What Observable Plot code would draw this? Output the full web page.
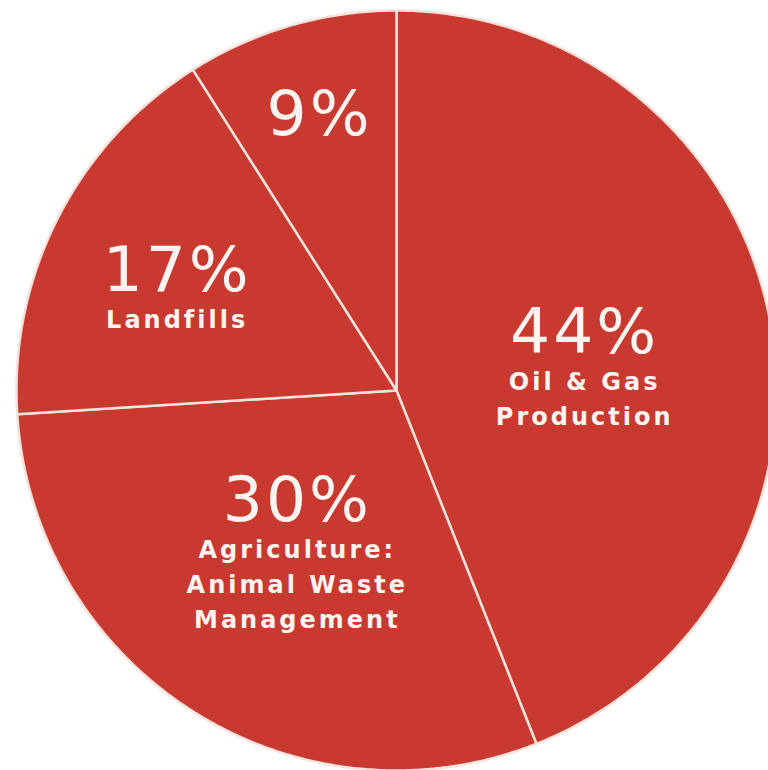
<!DOCTYPE html>
<html>
<head>
<meta charset="utf-8">
<script src="https://cdn.jsdelivr.net/npm/d3@7"></script>
<script src="https://cdn.jsdelivr.net/npm/@observablehq/plot@0.6"></script>
<style>
  html, body { margin: 0; padding: 0; background: #ffffff; }
  #chart svg text { letter-spacing: 3px; }
</style>
</head>
<body>
<div id="chart"></div>
<script>
// ---- data ----
const categories = ["Oil & Gas\nProduction", "Agriculture:\nAnimal Waste\nManagement", "Landfills", ""];
const shares = [44, 30, 17, 9];
const valueLabels = ["44%", "30%", "17%", "9%"];

// ---- layout options (label placement inside each slice, polar, unit radius) ----
const labelRadius = [0.518, 0.39, 0.658, 0.753];
const labelAngleNudge = [-6.3, 9.6, 1.7, 0.6]; // degrees

const sliceFill = "#c8392f";
const sepColor = "#f6e2dc";
const textColor = "#fdf3f0";

// pie geometry in unit coordinates (clockwise from 12 o'clock)
const arcs = d3.pie().sort(null).value(d => d)(shares);
const outline = [];
arcs.forEach((a, i) => {
  const n = Math.max(2, Math.ceil((a.endAngle - a.startAngle) / (Math.PI / 360)));
  outline.push({slice: i, x: 0, y: 0});
  for (let k = 0; k <= n; k++) {
    const t = a.startAngle + (a.endAngle - a.startAngle) * k / n;
    outline.push({slice: i, x: Math.sin(t), y: Math.cos(t)});
  }
  outline.push({slice: i, x: 0, y: 0});
});

const labels = arcs.map((a, i) => {
  const t = (a.startAngle + a.endAngle) / 2 + labelAngleNudge[i] * Math.PI / 180;
  return {
    x: labelRadius[i] * Math.sin(t),
    y: labelRadius[i] * Math.cos(t),
    value: valueLabels[i],
    name: categories[i]
  };
});

const chart = Plot.plot({
  width: 768,
  height: 770,
  margin: 0,
  style: {background: "#ffffff", fontFamily: "DejaVu Sans"},
  x: {domain: [-1, 1], range: [16, 776], axis: null},
  y: {domain: [-1, 1], range: [770, 10], axis: null},
  marks: [
    Plot.line(outline, {
      x: "x", y: "y", z: "slice",
      fill: sliceFill,
      stroke: sepColor,
      strokeWidth: 2.5,
      strokeLinejoin: "round"
    }),
    Plot.text(labels, {
      x: "x", y: "y", text: "value",
      fontSize: 63, fontFamily: "DejaVu Sans", fontWeight: "normal",
      fill: textColor, dy: 0
    }),
    Plot.text(labels, {
      x: "x", y: "y", text: "name",
      fontSize: 24, fontFamily: "DejaVu Sans", fontWeight: "bold",
      lineAnchor: "top", lineHeight: 1.45, dy: 33,
      fill: textColor
    })
  ]
});
document.getElementById("chart").appendChild(chart);
</script>
</body>
</html>
